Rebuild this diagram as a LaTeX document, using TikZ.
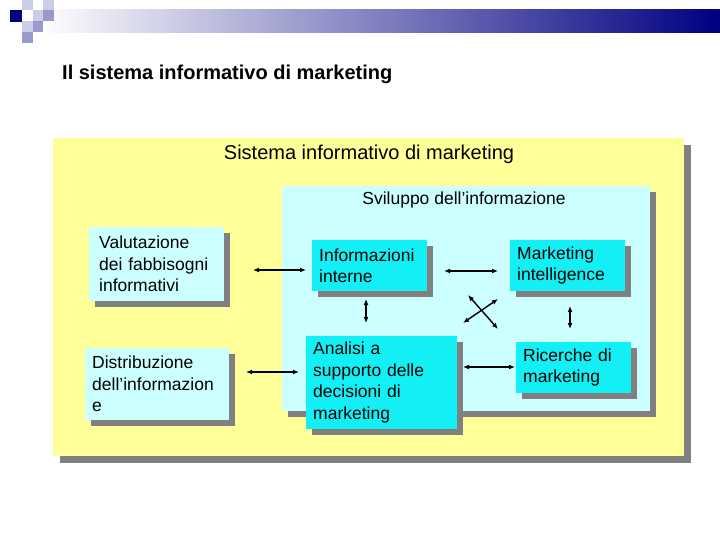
\documentclass[tikz,border=0pt]{standalone}
\usepackage{fontspec}
\setmainfont{Liberation Sans}
\usetikzlibrary{shadows,arrows.meta}
\definecolor{yel}{HTML}{FFFF99}
\definecolor{lcy}{HTML}{CCFFFF}
\definecolor{cyb}{HTML}{12F0F5}
\definecolor{shd}{HTML}{808080}
\definecolor{navyb}{HTML}{000080}
\definecolor{sqlight}{HTML}{CCCCE6}
\definecolor{sqmed}{HTML}{9999CC}
\begin{document}
\begin{tikzpicture}[x=1pt,y=-1pt,
  bx/.style={rectangle, anchor=north west, inner xsep=7pt, inner ysep=0pt, align=left,
    font=\fontsize{17.5}{21.5}\selectfont,
    drop shadow={shadow xshift=6pt, shadow yshift=-6pt, fill=shd, opacity=1}},
  frame/.style={rectangle, anchor=north west, inner sep=0pt},
  dbl/.style={{Latex[length=6pt,width=5pt]}-{Latex[length=6pt,width=5pt]}, line width=1.4pt, black}]
\useasboundingbox (0,0) rectangle (720,540);
\fill[white] (0,0) rectangle (720,540);
% header
\shade[left color=white, middle color={rgb,255:red,170;green,170;blue,188}, right color=navyb] (40,10) rectangle (720,33);
\fill[sqlight] (22,0) rectangle (33,10);
\fill[sqlight] (43,0) rectangle (54,10);
\fill[navyb] (10,10) rectangle (22,22);
\fill[sqlight] (33,10) rectangle (43,21);
\fill[sqmed] (43,10) rectangle (54,21);
\fill[sqlight] (22,21) rectangle (33,32);
\fill[sqmed] (33,21) rectangle (43,32);
\fill[sqmed] (22,32) rectangle (33,43);
\node[anchor=west, inner sep=0pt, font=\fontsize{20}{24}\selectfont\bfseries] (title) at (62,74) {Il sistema informativo di marketing};
% frames
\node[frame, fill=yel, minimum width=631, minimum height=318,
  drop shadow={shadow xshift=7pt, shadow yshift=-7pt, fill=shd, opacity=1}] (sim) at (53,138) {};
\node[inner sep=0pt, font=\fontsize{20}{24}\selectfont] (simt) at (369,154) {Sistema informativo di marketing};
\node[frame, fill=lcy, minimum width=368, minimum height=225,
  drop shadow={shadow xshift=6pt, shadow yshift=-6pt, fill=shd, opacity=1}] (svi) at (282,186) {};
\node[inner sep=0pt, font=\fontsize{17.5}{21}\selectfont] (svit) at (464,200) {Sviluppo dell’informazione};
% boxes
\node[bx, fill=lcy, inner xsep=10pt, minimum width=135, minimum height=74, text width=115] (val) at (89,227) {Valutazione\\dei fabbisogni\\informativi};
\node[bx, fill=lcy, minimum width=144, minimum height=72, text width=130] (dis) at (85,348) {Distribuzione\\dell’informazion\\e};
\node[bx, fill=cyb, minimum width=115, minimum height=51, text width=101] (inf) at (312,240) {Informazioni\\interne};
\node[bx, fill=cyb, minimum width=115, minimum height=51, text width=101] (mki) at (510,240) {Marketing\\intelligence};
\node[bx, fill=cyb, minimum width=151, minimum height=93, text width=137] (ana) at (306,336) {Analisi a\\supporto delle\\decisioni di\\marketing};
\node[bx, fill=cyb, minimum width=115, minimum height=51, text width=101] (ric) at (516,342) {Ricerche di\\marketing};
% connector ends
\coordinate (c1a) at (253,270); \coordinate (c1b) at (306,270);
\coordinate (c2a) at (246,372); \coordinate (c2b) at (299,372);
\coordinate (c3a) at (444,271); \coordinate (c3b) at (498,271);
\coordinate (c4a) at (463,367); \coordinate (c4b) at (515,367);
\coordinate (c5a) at (366,299); \coordinate (c5b) at (366,323);
\coordinate (c6a) at (570,306); \coordinate (c6b) at (570,329);
\coordinate (c7a) at (468,295); \coordinate (c7b) at (498,329);
\coordinate (c8a) at (463,323); \coordinate (c8b) at (498,299);
\draw[dbl] (c1a) -- (c1b);
\draw[dbl] (c2a) -- (c2b);
\draw[dbl] (c3a) -- (c3b);
\draw[dbl] (c4a) -- (c4b);
\draw[dbl] (c5a) -- (c5b);
\draw[dbl] (c6a) -- (c6b);
\draw[dbl] (c7a) -- (c7b);
\draw[dbl] (c8a) -- (c8b);
\end{tikzpicture}
\end{document}
